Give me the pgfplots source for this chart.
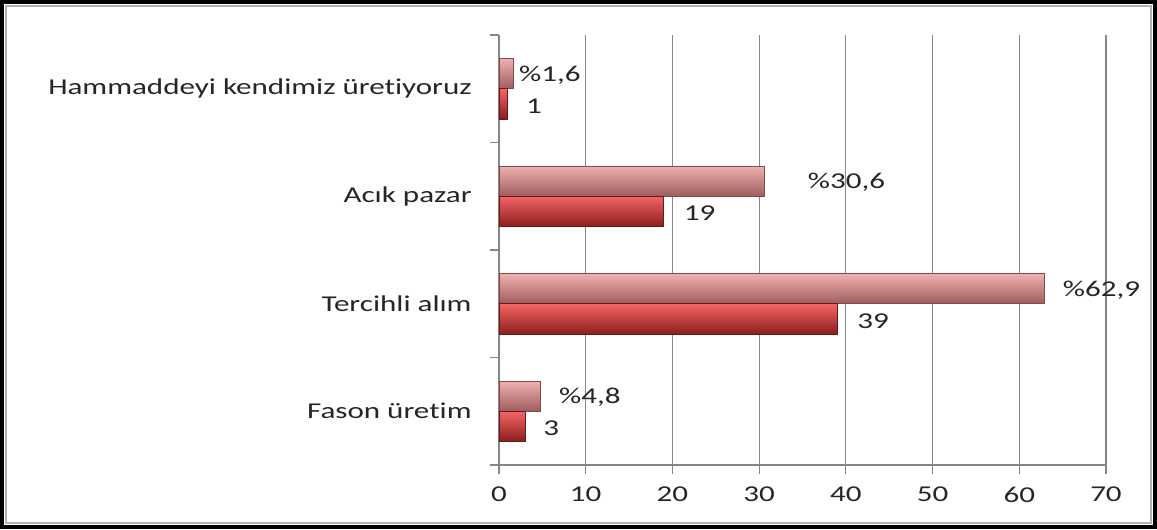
\documentclass[border=0pt]{standalone}
\usepackage{pgfplots}
\pgfplotsset{compat=1.18}
\usepackage{fontspec}
\setmainfont{Carlito}[FakeStretch=1.37, Ligatures=NoCommon]
\definecolor{gridgray}{RGB}{134,134,134}
\definecolor{pinkT}{RGB}{238,176,176}
\definecolor{pinkM}{RGB}{204,130,130}
\definecolor{pinkB}{RGB}{160,92,92}
\definecolor{pinkD}{RGB}{130,75,75}
\definecolor{redT}{RGB}{245,100,100}
\definecolor{redM}{RGB}{196,52,52}
\definecolor{redB}{RGB}{140,30,30}
\definecolor{redD}{RGB}{105,25,25}
\pgfplotsset{
  pctbar/.style={xbar, bar shift=0.14, draw=pinkD, line width=0.4pt,
    top color=pinkT, middle color=pinkM, bottom color=pinkB},
  cntbar/.style={xbar, bar shift=-0.14, draw=redD, line width=0.4pt,
    top color=redT, middle color=redM, bottom color=redB},
  lbl/.style={only marks, mark=text, text mark={}, nodes near coords, point meta=explicit symbolic},
}
\begin{document}
\begin{tikzpicture}
\fill[white] (0,0) rectangle (867.75pt,396.75pt);
\begin{axis}[
  at={(374.25pt,48pt)}, anchor=south west,
  scale only axis, width=455.25pt, height=322.5pt,
  xmin=0, xmax=70, ymin=-0.5, ymax=3.5,
  axis x line*=bottom, axis y line*=left,
  axis line style={gridgray, line width=0.8pt},
  xtick={0,10,...,70},
  xmajorgrids, grid style={gridgray, line width=0.8pt},
  tick style={gridgray, line width=0.8pt},
  tick align=outside, major tick length=7pt,
  ytick={-0.5,0.5,1.5,2.5,3.5}, yticklabels={},
  extra y ticks={0,1,2,3},
  extra y tick labels={Fason üretim, Tercihli alım, Acık pazar, Hammaddeyi kendimiz üretiyoruz},
  extra y tick style={major tick length=0pt, tick label style={xshift=-17pt}},
  /pgf/number format/assume math mode=true,
  ticklabel style={font=\fontsize{17}{20}\selectfont, text=black!85},
  xticklabel style={yshift=-6pt},
  bar width=0.28,
  nodes near coords style={anchor=west, inner sep=0pt, font=\fontsize{17}{20}\selectfont, text=black!85},
  clip=false,
]
% percent series (%)
\addplot[pctbar] coordinates {(4.8,0)};
\addplot[pctbar] coordinates {(62.9,1)};
\addplot[pctbar] coordinates {(30.6,2)};
\addplot[pctbar] coordinates {(1.6,3)};
% count series
\addplot[cntbar] coordinates {(3,0)};
\addplot[cntbar] coordinates {(39,1)};
\addplot[cntbar] coordinates {(19,2)};
\addplot[cntbar] coordinates {(1,3)};
% labels
\addplot[lbl]
  coordinates {(6.9,0.13) [\%4{,}8] (65.0,1.13) [\%62{,}9] (35.6,2.13) [\%30{,}6] (2.3,3.13) [\%1{,}6]};
\addplot[lbl]
  coordinates {(5.1,-0.16) [3] (41.3,0.84) [39] (21.3,1.84) [19] (3.1,2.84) [1]};
\end{axis}
\draw[gray!60, line width=1.5pt] (4.5pt,4.5pt) rectangle (863.25pt,392.25pt);
\draw[black, line width=3pt] (1.5pt,1.5pt) rectangle (866.25pt,395.25pt);
\end{tikzpicture}
\end{document}
